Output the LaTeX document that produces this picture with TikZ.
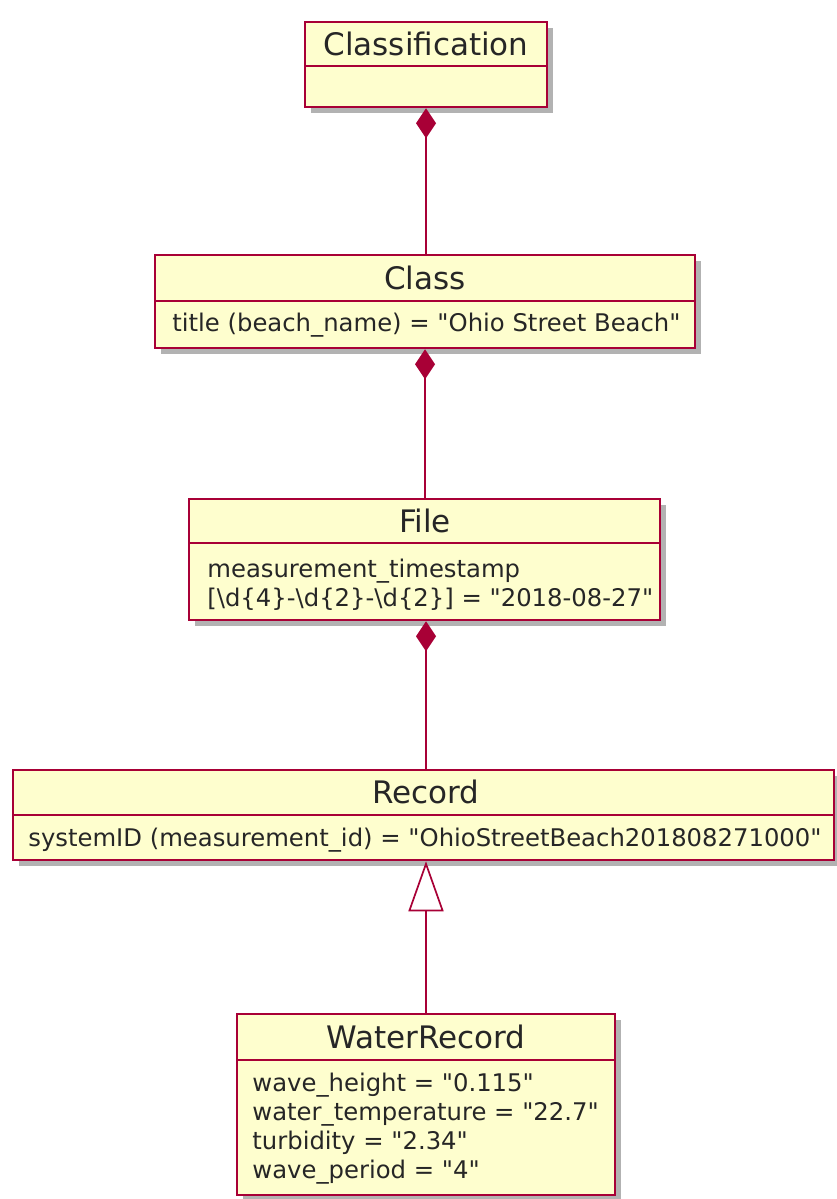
\documentclass[tikz,border=0pt]{standalone}
\usepackage{fontspec}
\setmainfont{DejaVu Sans}[Ligatures=TeXOff]
\usetikzlibrary{arrows.meta,shadows,fit}
\definecolor{umlfill}{HTML}{FEFECE}
\definecolor{umlborder}{HTML}{A80036}
\definecolor{umltext}{HTML}{262626}
\tikzset{
 umlbox/.style={draw=umlborder, line width=1.25pt, fill=umlfill, inner sep=0pt,
   drop shadow={shadow xshift=3pt, shadow yshift=-3pt, fill=black!55, opacity=0.55}},
 divider/.style={draw=umlborder, line width=1.1pt},
 ttl/.style={text=umltext, font=\fontsize{15.5pt}{18pt}\selectfont, inner sep=0pt},
 body/.style={text=umltext, font=\fontsize{12.15pt}{14.5pt}\selectfont, inner sep=0pt, anchor=west, align=left},
 comp/.style={draw=umlborder, line width=0.85pt, -{Diamond[length=15pt, width=10pt, fill=umlborder]}},
 inherit/.style={draw=umlborder, line width=0.85pt, -{Triangle[open, length=25pt, width=17.5pt, fill=white]}},
}
\begin{document}
\begin{tikzpicture}[x=0.5pt, y=-0.5pt]
\fill[white] (0,0) rectangle (836,1199);
\useasboundingbox (0,0) rectangle (836,1199);

% Classification
\node[umlbox, fit={(305,22) (547,107)}] (cls) {};
\draw[divider] (305,66) -- (547,66);
\node[ttl] (clsT) at (426,44) {Classification};

% Class
\node[umlbox, fit={(155,255) (695,348)}] (class) {};
\draw[divider] (155,301) -- (695,301);
\node[ttl] (classT) at (425,278) {Class};
\node[body] (classB) at (172,325) {title (beach\_name) = "Ohio Street Beach"};

% File
\node[umlbox, fit={(189,499) (660,620)}] (file) {};
\draw[divider] (189,543) -- (660,543);
\node[ttl] (fileT) at (425,521) {File};
\node[body] (fileB) at (207,585) {measurement\_timestamp\\{}[\textbackslash d\{4\}-\textbackslash d\{2\}-\textbackslash d\{2\}] = "2018-08-27"};

% Record
\node[umlbox, fit={(13,770) (834,860)}] (rec) {};
\draw[divider] (13,815) -- (834,815);
\node[ttl] (recT) at (426,792) {Record};
\node[body] (recB) at (28,840) {systemID (measurement\_id) = "OhioStreetBeach201808271000"};

% WaterRecord
\node[umlbox, fit={(237,1014) (615,1195)}] (wr) {};
\draw[divider] (237,1060) -- (615,1060);
\node[ttl] (wrT) at (426,1037) {WaterRecord};
\node[body] (wrB) at (252,1129) {wave\_height = "0.115"\\water\_temperature = "22.7"\\turbidity = "2.34"\\wave\_period = "4"};

% connectors
\draw[comp] (cls.south |- class.north) -- (cls.south);
\draw[comp] (class.south |- file.north) -- (class.south);
\draw[comp] (cls.south |- rec.north) -- (cls.south |- file.south);
\draw[inherit] (cls.south |- wr.north) -- (cls.south |- rec.south);
\end{tikzpicture}
\end{document}
